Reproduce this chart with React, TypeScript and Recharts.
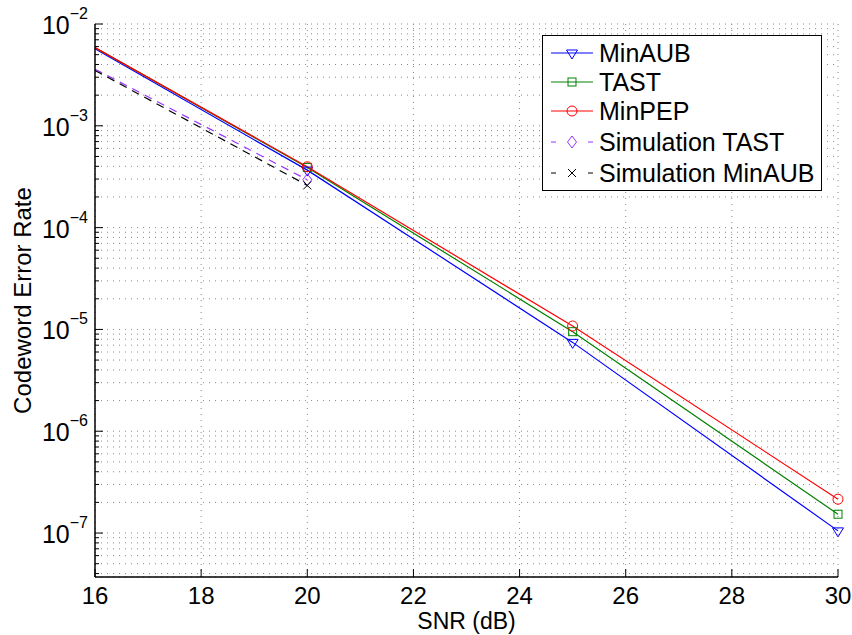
import React from "react";
import { CartesianGrid, Legend, Line, LineChart, XAxis, YAxis } from "recharts";

// SNR points (dB) for the analytical bounds and for the simulations
const snrBounds = [16, 20, 25, 30];
const snrSim = [16, 20];

// codeword error rate
const minAubCer = [5.7e-3, 3.67e-4, 7.46e-6, 1.05e-7];
const tastCer = [5.86e-3, 3.9e-4, 9.5e-6, 1.53e-7];
const minPepCer = [5.86e-3, 3.96e-4, 1.08e-5, 2.15e-7];
const simTastCer = [3.6e-3, 2.95e-4];
const simMinAubCer = [3.5e-3, 2.6e-4];

const xTicks = [16, 18, 20, 22, 24, 26, 28, 30];
const decades = [1e-8, 1e-7, 1e-6, 1e-5, 1e-4, 1e-3, 1e-2];
const mantissas = [1, 2, 3, 4, 5, 6, 7, 8, 9];
const Y_MIN = 3.7e-8;
const Y_MAX = 1e-2;

const yTicks = decades
  .flatMap((d) => mantissas.map((m) => m * d))
  .filter((v) => v >= Y_MIN && v <= Y_MAX * 1.0001);

const FONT = "'Liberation Sans', Arial, Helvetica, sans-serif";

type MarkerKind = "triangleDown" | "square" | "circle" | "diamond" | "cross";

interface SeriesDef {
  name: string;
  snr: number[];
  cer: number[];
  color: string;
  marker: MarkerKind;
  dashed: boolean;
}

const series: SeriesDef[] = [
  { name: "MinAUB", snr: snrBounds, cer: minAubCer, color: "#0000ff", marker: "triangleDown", dashed: false },
  { name: "TAST", snr: snrBounds, cer: tastCer, color: "#008000", marker: "square", dashed: false },
  { name: "MinPEP", snr: snrBounds, cer: minPepCer, color: "#ff0000", marker: "circle", dashed: false },
  { name: "Simulation TAST", snr: snrSim, cer: simTastCer, color: "#9933ff", marker: "diamond", dashed: true },
  { name: "Simulation MinAUB", snr: snrSim, cer: simMinAubCer, color: "#000000", marker: "cross", dashed: true },
];

function isMajor(v: number) {
  const l = Math.log10(v);
  return Math.abs(l - Math.round(l)) < 1e-6;
}

function Marker({ kind, cx, cy, color }: { kind: MarkerKind; cx: number; cy: number; color: string }) {
  const common = { fill: "none", stroke: color, strokeWidth: 1 };
  switch (kind) {
    case "triangleDown":
      return <polygon {...common} points={`${cx - 5.5},${cy - 3} ${cx + 5.5},${cy - 3} ${cx},${cy + 6}`} />;
    case "square":
      return <rect {...common} x={cx - 4} y={cy - 4} width={8} height={8} />;
    case "circle":
      return <circle {...common} cx={cx} cy={cy} r={5} />;
    case "diamond":
      return <polygon {...common} points={`${cx},${cy - 6} ${cx + 4.5},${cy} ${cx},${cy + 6} ${cx - 4.5},${cy}`} />;
    case "cross":
      return (
        <g stroke={color} strokeWidth={1}>
          <line x1={cx - 4} y1={cy - 4} x2={cx + 4} y2={cy + 4} />
          <line x1={cx - 4} y1={cy + 4} x2={cx + 4} y2={cy - 4} />
        </g>
      );
  }
}

function LeftTick(props: any) {
  const { x, y, payload } = props;
  const v = payload.value as number;
  const major = isMajor(v);
  const exp = Math.round(Math.log10(v));
  return (
    <g>
      <line x1={x} x2={x + (major ? 8 : 4)} y1={y} y2={y} stroke="#000" />
      {major && (
        <text x={x - 7} y={y + 10} textAnchor="end" fontSize={25} fontFamily={FONT} fill="#000">
          10
          <tspan dy={-15} fontSize={16}>
            {"\u2212" + Math.abs(exp)}
          </tspan>
        </text>
      )}
    </g>
  );
}

function RightTick(props: any) {
  const { x, y, payload } = props;
  const major = isMajor(payload.value);
  return <line x1={x} x2={x - (major ? 8 : 4)} y1={y} y2={y} stroke="#000" />;
}

function BottomTick(props: any) {
  const { x, y, payload } = props;
  return (
    <g>
      <line x1={x} x2={x} y1={y} y2={y - 8} stroke="#000" />
      <text x={x} y={y + 27} textAnchor="middle" fontSize={24} fontFamily={FONT} fill="#000">
        {payload.value}
      </text>
    </g>
  );
}

function TopTick(props: any) {
  const { x, y } = props;
  return <line x1={x} x2={x} y1={y} y2={y + 8} stroke="#000" />;
}

function LegendBox() {
  const rowY = [18, 47, 76, 107, 138];
  return (
    <div style={{ width: 280, height: 156, border: "1px solid #000", background: "#fff", boxSizing: "border-box" }}>
      <svg width={278} height={154}>
        {series.map((s, i) => {
          const cy = rowY[i] - 1;
          return (
            <g key={s.name}>
              <line
                x1={8}
                x2={50}
                y1={cy}
                y2={cy}
                stroke={s.color}
                strokeWidth={1}
                strokeDasharray={s.dashed ? "5 32" : undefined}
              />
              <Marker kind={s.marker} cx={29} cy={cy} color={s.color} />
              <text x={56} y={cy + 9} fontSize={25} fontFamily={FONT} fill="#000">
                {s.name}
              </text>
            </g>
          );
        })}
      </svg>
    </div>
  );
}

export default function App() {
  return (
    <div style={{ position: "absolute", left: 0, top: 0, background: "#fff" }}>
      <LineChart width={852} height={635} margin={{ top: 24, right: 14, bottom: 0, left: 0 }}>
        <CartesianGrid stroke="#8a8a8a" strokeDasharray="1 5" />
        <XAxis
          type="number"
          dataKey="snr"
          domain={[16, 30]}
          ticks={xTicks}
          interval={0}
          height={58}
          tickSize={0}
          tickMargin={0}
          tickLine={false}
          axisLine={{ stroke: "#000", strokeWidth: 1.5 }}
          tick={<BottomTick />}
          label={{ value: "SNR (dB)", position: "insideBottom", offset: 6, fontSize: 23, fontFamily: FONT, fill: "#000" }}
        />
        <XAxis
          xAxisId="top"
          orientation="top"
          type="number"
          dataKey="snr"
          domain={[16, 30]}
          allowDataOverflow
          ticks={xTicks}
          interval={0}
          height={0}
          tickSize={0}
          tickMargin={0}
          tickLine={false}
          axisLine={{ stroke: "#000", strokeWidth: 1.5 }}
          tick={<TopTick />}
        />
        <YAxis
          type="number"
          scale="log"
          domain={[Y_MIN, Y_MAX]}
          allowDataOverflow
          ticks={yTicks}
          interval={0}
          width={95}
          tickSize={0}
          tickMargin={0}
          tickLine={false}
          axisLine={{ stroke: "#000", strokeWidth: 1.5 }}
          tick={<LeftTick />}
          label={{
            content: (p: any) => {
              const vb = p.viewBox;
              const cy = vb.y + vb.height / 2;
              return (
                <text
                  x={31}
                  y={cy}
                  transform={`rotate(-90 31 ${cy})`}
                  textAnchor="middle"
                  fontSize={24}
                  fontFamily={FONT}
                  fill="#000"
                >
                  Codeword Error Rate
                </text>
              );
            },
          }}
        />
        <YAxis
          yAxisId="right"
          orientation="right"
          type="number"
          scale="log"
          domain={[Y_MIN, Y_MAX]}
          allowDataOverflow
          ticks={yTicks}
          interval={0}
          width={0}
          tickSize={0}
          tickMargin={0}
          tickLine={false}
          axisLine={{ stroke: "#000", strokeWidth: 1.5 }}
          tick={<RightTick />}
        />
        {series.map((s) => (
          <Line
            key={s.name}
            name={s.name}
            data={s.snr.map((x, i) => ({ snr: x, cer: s.cer[i] }))}
            dataKey="cer"
            stroke={s.color}
            strokeWidth={1.2}
            strokeDasharray={s.dashed ? "8 6" : undefined}
            isAnimationActive={false}
            activeDot={false}
            dot={(p: any) => (
              <g key={`${s.name}-${p.index}`}>
                {p.payload.snr !== 16 && <Marker kind={s.marker} cx={p.cx} cy={p.cy} color={s.color} />}
              </g>
            )}
          />
        ))}
        <Legend
          layout="vertical"
          align="center"
          verticalAlign="middle"
          wrapperStyle={{ left: 542, top: 35, width: 280, height: 156 }}
          content={() => <LegendBox />}
        />
      </LineChart>
    </div>
  );
}
